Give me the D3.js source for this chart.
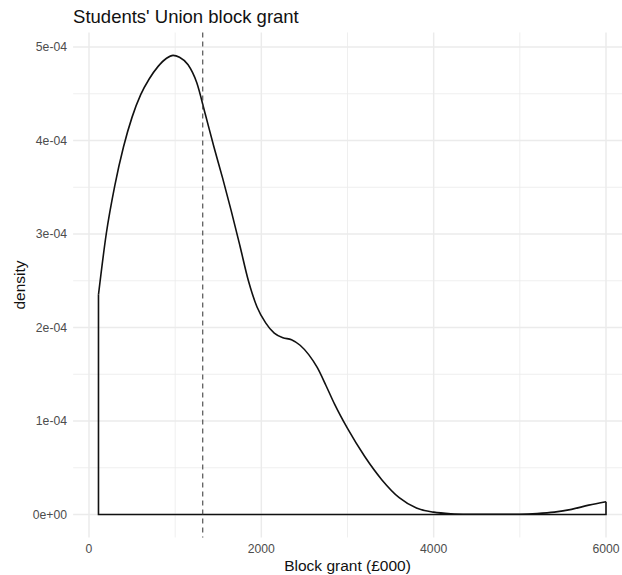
<!DOCTYPE html>
<html lang="en">
  <head>
    <meta charset="utf-8">
    <script src="https://cdn.jsdelivr.net/npm/d3@7"></script>
    <style>
      body { margin: 0; background: #fff; }
      text { font-family: "Liberation Sans", Arial, sans-serif; }
      .grid line { stroke: #ebebeb; }
      .tick-label { fill: #4d4d4d; font-size: 12.2px; }
    </style>
    <title>Students' Union block grant</title>
  </head>
  <body>
    <script>
      var width = 622;
      var height = 575;

      // density estimate (x in £000, y in 1e-04 units)
      var grantX = [110, 200, 300, 400, 500, 600, 700, 800, 900, 975, 1050, 1150, 1250, 1350,
                    1450, 1550, 1650, 1750, 1850, 1950, 2050, 2150, 2250, 2350, 2450, 2550,
                    2650, 2750, 2850, 3000, 3200, 3400, 3600, 3800, 4000, 4200, 4400, 4600,
                    4800, 5000, 5200, 5400, 5600, 5800, 6000];
      var densityE4 = [2.35, 3.0, 3.52, 3.93, 4.25, 4.49, 4.66, 4.79, 4.88, 4.91, 4.89, 4.81, 4.62, 4.28,
                       3.93, 3.60, 3.25, 2.88, 2.50, 2.22, 2.05, 1.94, 1.89, 1.87, 1.81, 1.71,
                       1.57, 1.38, 1.18, 0.92, 0.62, 0.37, 0.18, 0.07, 0.025, 0.008, 0.003, 0.002,
                       0.002, 0.003, 0.01, 0.025, 0.055, 0.10, 0.136];
      var meanGrant = 1320;

      var xTicks = [0, 2000, 4000, 6000];
      var xMinor = [1000, 3000, 5000];
      var yTicks = [0, 1e-4, 2e-4, 3e-4, 4e-4, 5e-4];
      var yTickLabels = ["0e+00", "1e-04", "2e-04", "3e-04", "4e-04", "5e-04"];
      var yMinor = [0.5e-4, 1.5e-4, 2.5e-4, 3.5e-4, 4.5e-4];

      var pts = grantX.map(function(d, i) { return [d, densityE4[i] * 1e-4]; });

      var x = d3.scaleLinear().domain([0, 6000]).range([89, 606]);
      var y = d3.scaleLinear().domain([0, 5e-4]).range([514.5, 47]);

      var xmin = d3.min(grantX), xmax = d3.max(grantX);
      var ymax = d3.max(pts, function(d) { return d[1]; });
      var panel = {
        left: x(xmin - 0.05 * (xmax - xmin)),
        right: x(xmax + 0.05 * (xmax - xmin)),
        top: y(ymax * 1.05),
        bottom: y(-ymax * 0.05)
      };

      var svg = d3.select("body").append("svg")
        .attr("width", width).attr("height", height);

      var grid = svg.append("g").attr("class", "grid");
      grid.selectAll("line.ymin").data(yMinor).enter().append("line")
        .attr("x1", panel.left).attr("x2", panel.right)
        .attr("y1", y).attr("y2", y).attr("stroke-width", 0.8);
      grid.selectAll("line.xmin").data(xMinor).enter().append("line")
        .attr("y1", panel.top).attr("y2", panel.bottom)
        .attr("x1", x).attr("x2", x).attr("stroke-width", 0.8);
      grid.selectAll("line.ymaj").data(yTicks).enter().append("line")
        .attr("x1", panel.left).attr("x2", panel.right)
        .attr("y1", y).attr("y2", y).attr("stroke-width", 1.5);
      grid.selectAll("line.xmaj").data(xTicks).enter().append("line")
        .attr("y1", panel.top).attr("y2", panel.bottom)
        .attr("x1", x).attr("x2", x).attr("stroke-width", 1.5);

      // density outline: curve plus the closing base, like geom_density
      var line = d3.line()
        .x(function(d) { return x(d[0]); })
        .y(function(d) { return y(d[1]); })
        .curve(d3.curveMonotoneX);
      var base = d3.line()
        .x(function(d) { return x(d[0]); })
        .y(function(d) { return y(d[1]); });
      svg.append("path")
        .attr("d", base([[xmax, pts[pts.length - 1][1]], [xmax, 0], [xmin, 0], [xmin, pts[0][1]]]))
        .attr("fill", "none").attr("stroke", "#111").attr("stroke-width", 1.6);
      svg.append("path")
        .attr("d", line(pts))
        .attr("fill", "none").attr("stroke", "#111").attr("stroke-width", 1.6)
        .attr("stroke-linejoin", "round");

      svg.append("line")
        .attr("x1", x(meanGrant)).attr("x2", x(meanGrant))
        .attr("y1", panel.top).attr("y2", panel.bottom)
        .attr("stroke", "#444").attr("stroke-width", 1.1)
        .attr("stroke-dasharray", "5,4");

      // tick labels
      svg.append("g").selectAll("text").data(yTicks).enter().append("text")
        .attr("class", "tick-label")
        .attr("x", 67).attr("y", y).attr("dy", "0.35em")
        .attr("text-anchor", "end")
        .text(function(d, i) { return yTickLabels[i]; });
      svg.append("g").selectAll("text").data(xTicks).enter().append("text")
        .attr("class", "tick-label")
        .attr("x", x).attr("y", panel.bottom + 16)
        .attr("text-anchor", "middle")
        .text(function(d) { return d; });

      svg.append("text")
        .attr("x", (panel.left + 606 + 16) / 2).attr("y", 571)
        .attr("text-anchor", "middle").attr("font-size", "15.5px").attr("fill", "#111")
        .text("Block grant (£000)");
      svg.append("text")
        .attr("transform", "translate(25," + ((panel.top + panel.bottom) / 2) + ") rotate(-90)")
        .attr("text-anchor", "middle").attr("font-size", "15.5px").attr("fill", "#111")
        .text("density");
      svg.append("text")
        .attr("x", panel.left).attr("y", 23)
        .attr("font-size", "18.5px").attr("fill", "#111")
        .text("Students' Union block grant");
    </script>
  </body>
</html>
